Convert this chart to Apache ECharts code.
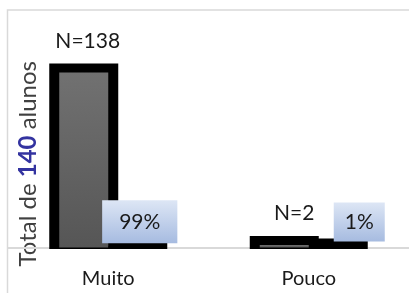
<!DOCTYPE html>
<html>
<head>
<meta charset="utf-8">
<script src="https://cdn.jsdelivr.net/npm/echarts@6/dist/echarts.min.js"></script>
<style>
  html, body { margin: 0; padding: 0; background: #fff; }
  #container { width: 409px; height: 293px; }
</style>
</head>
<body>
<div id="container"></div>
<script>
// data
var categories = ['Muito', 'Pouco'];
var countValues = [138, 2];        // N per answer
var shareValues = [0.99, 0.01];    // share of the 140 students

// label placement tweaks (the boxes in the original are not all the same size)
var countLabelOffsets = [[4, 0], [10, 0]];
var pctLabelOffsets = [[7, 3], [26, 0]];
var pctLabelPadding = [[11, 17], [9, 11]];

var FONT = 'Lato';
var BAR_W = 49;     // each bar
var EDGE = 10;      // thick black outline drawn outside the bars
var EDGE_TOP = 9;

var dom = document.getElementById('container');
var myChart = echarts.init(dom);

var grayFill = new echarts.graphic.LinearGradient(0, 0, 0, 1, [
    { offset: 0, color: '#717171' },
    { offset: 1, color: '#565656' }
]);
var blueBox = new echarts.graphic.LinearGradient(0, 0, 0, 1, [
    { offset: 0, color: '#dde6f5' },
    { offset: 1, color: '#a6bbe0' }
]);

// outline data: [category index, value, which series]
var outlineData = [];
categories.forEach(function (c, i) {
    outlineData.push([i, countValues[i], 0]);
    outlineData.push([i, shareValues[i], 1]);
});

function renderOutline(params, api) {
    var cat = api.value(0);
    var val = api.value(1);
    var which = api.value(2);
    var top = api.coord([cat, val]);
    var base = api.coord([cat, 0]);
    var x0 = which === 0 ? top[0] - BAR_W : top[0];
    return {
        type: 'rect',
        shape: {
            x: x0 - EDGE,
            y: top[1] - EDGE_TOP,
            width: BAR_W + 2 * EDGE,
            height: base[1] - top[1] + EDGE_TOP + 1.5
        },
        style: { fill: '#000' }
    };
}

var option = {
    animation: false,
    graphic: [{
        type: 'rect',
        shape: { x: 7.5, y: 10, width: 600, height: 400 },
        style: { fill: 'none', stroke: '#d9d9d9', lineWidth: 1.5 },
        silent: true,
        z: -1
    }],
    grid: { left: 8, width: 403, top: 70, bottom: 45.5 },
    xAxis: {
        type: 'category',
        data: categories,
        axisTick: { show: false },
        axisLine: { lineStyle: { color: '#d9d9d9', width: 2 } },
        axisLabel: { color: '#1a1a1a', fontFamily: FONT, fontSize: 20, margin: 21 }
    },
    yAxis: {
        type: 'value',
        min: 0,
        max: 140,
        splitLine: { show: false },
        axisLine: { show: false },
        axisTick: { show: false },
        axisLabel: { show: false },
        name: '{a|Total de }{b|140}{a| alunos}',
        nameLocation: 'middle',
        nameGap: -32,
        nameTextStyle: {
            padding: [0, 10, 0, 0],
            rich: {
                a: { fontFamily: FONT, fontSize: 24, color: '#404040' },
                b: { fontFamily: FONT, fontSize: 24, fontWeight: 'bold', color: '#3333a0' }
            }
        }
    },
    series: [{
        type: 'custom',
        coordinateSystem: 'cartesian2d',
        silent: true,
        z: 1,
        encode: { x: 0, y: 1 },
        data: outlineData,
        renderItem: renderOutline
    }, {
        type: 'bar',
        z: 2,
        data: countValues.map(function (v, i) {
            return { value: v, label: { offset: countLabelOffsets[i] } };
        }),
        barWidth: BAR_W,
        barGap: 0,
        itemStyle: { color: grayFill },
        label: {
            show: true,
            position: 'top',
            distance: 21,
            fontFamily: FONT,
            fontSize: 21,
            color: '#1a1a1a',
            formatter: function (p) { return 'N=' + p.value; }
        }
    }, {
        type: 'bar',
        z: 2,
        data: shareValues.map(function (v, i) {
            return {
                value: v,
                label: { offset: pctLabelOffsets[i], padding: pctLabelPadding[i] }
            };
        }),
        barWidth: BAR_W,
        itemStyle: { color: '#000' },
        label: {
            show: true,
            position: 'top',
            distance: 6,
            fontFamily: FONT,
            fontSize: 21,
            color: '#1a1a1a',
            backgroundColor: blueBox,
            formatter: function (p) { return Math.round(p.value * 100) + '%'; }
        }
    }]
};

if (option && typeof option === 'object') {
    myChart.setOption(option, true);
}
</script>
</body>
</html>
